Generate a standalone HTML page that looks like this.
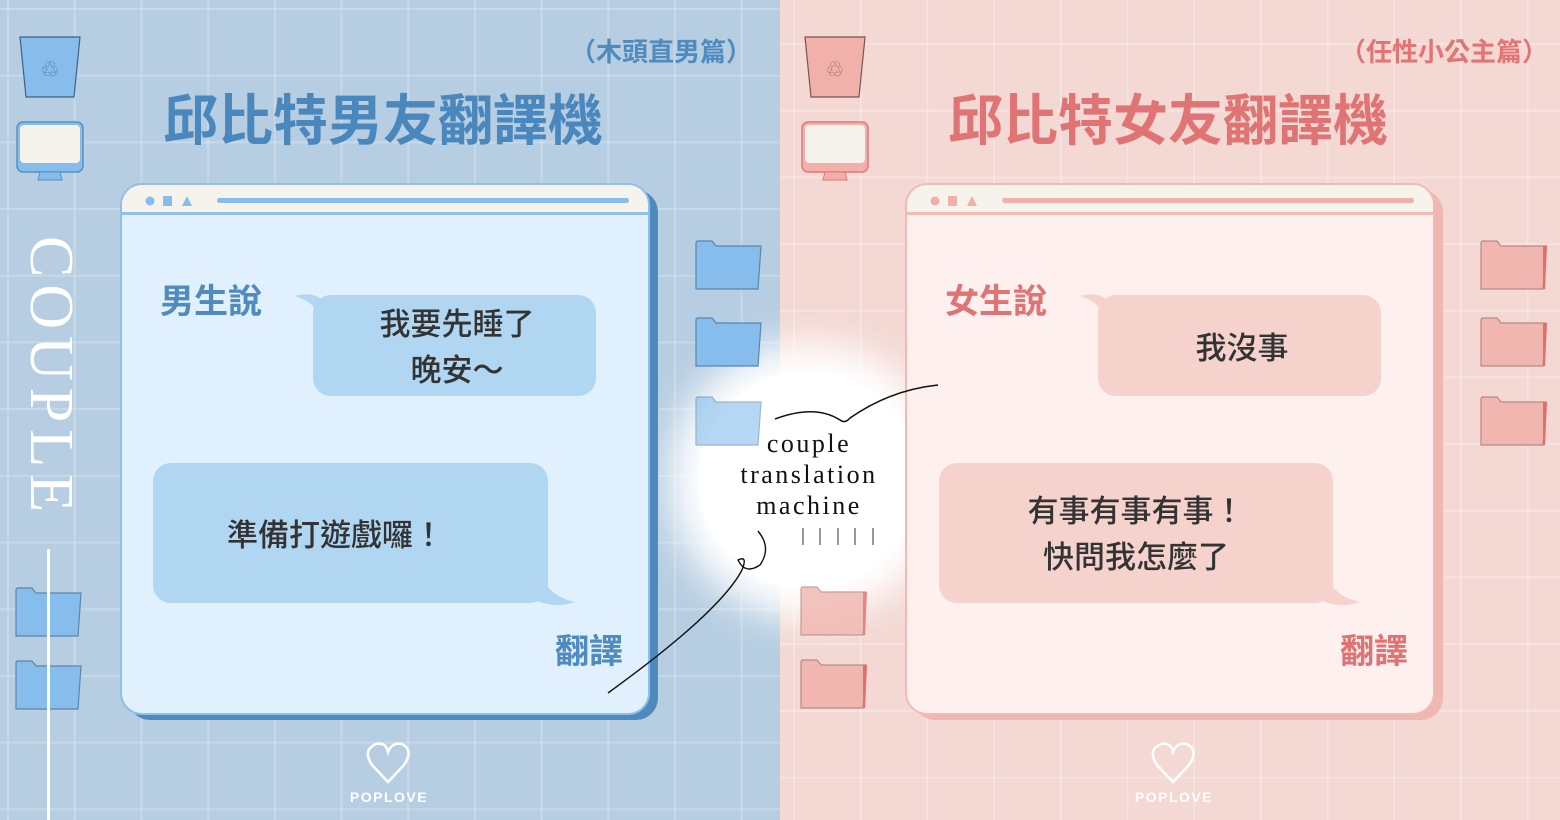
<!DOCTYPE html>
<html><head><meta charset="utf-8"><style>
*{margin:0;padding:0;box-sizing:border-box}
body{width:1560px;height:820px;overflow:hidden;position:relative;font-family:"Liberation Sans","Noto Sans CJK TC",sans-serif}
.half{position:absolute;top:0;height:820px}
#L{left:0;width:780px;background-color:#b7cee2;
background-image:linear-gradient(to right,rgba(255,255,255,.22) 2px,transparent 2px),linear-gradient(to bottom,rgba(255,255,255,.22) 2px,transparent 2px);
background-size:66.7px 66.7px;background-position:7px 8px}
#R{left:780px;width:780px;background-color:#f3d8d3;
background-image:linear-gradient(to right,rgba(255,255,255,.28) 2px,transparent 2px),linear-gradient(to bottom,rgba(255,255,255,.28) 2px,transparent 2px);
background-size:66.7px 66.7px;background-position:13px 43px}
.abs{position:absolute}
.win{position:absolute;width:530px;height:532px;border-radius:22px;overflow:hidden}
.hdr{position:absolute;left:0;top:0;width:100%;height:30px;background:#f5f3ec}
.title{position:absolute;font-weight:bold;font-size:55px;letter-spacing:0px;white-space:nowrap}
.sub{position:absolute;font-weight:bold;font-size:26px;white-space:nowrap}
.lbl{position:absolute;font-weight:bold;font-size:34px;white-space:nowrap}
.bub{position:absolute;border-radius:18px;display:flex;align-items:center;justify-content:center;text-align:center;font-size:30px;color:#333;line-height:46px;font-weight:500}
</style></head><body>
<div id="L" class="half"></div>
<div id="R" class="half"></div>

<!-- glow -->
<div class="abs" style="left:698px;top:370px;width:220px;height:220px;border-radius:50%;background:#fff;box-shadow:0 0 40px 28px #fff;"></div>

<svg class="abs" style="left:0;top:0" width="1560" height="820">
<defs><g id="fb"><path d="M0 2 Q0 0 2 0 H16 L20 5 H65 L62 48 H0 Z" fill="#86bdec" stroke="#5a86ad" stroke-width="1.2"/></g>
<g id="fp"><path d="M0 2 Q0 0 2 0 H16 L20 5 H65 L62 48 H0 Z" fill="#f1b6b0" stroke="#b88a86" stroke-width="1.2"/><path d="M62 5 H66 L64 48 H62Z" fill="#e46c6c"/></g></defs>
<path d="M20 37 H80 L74 97 H26 Z" fill="#86bdec" stroke="#44607a" stroke-width="1.2"/>
<text x="50" y="75" font-size="16" text-anchor="middle" fill="#44607a">♲</text>
<rect x="17" y="122" width="66" height="50" rx="6" fill="#86bdec" stroke="#5a90c0" stroke-width="1.5"/>
<rect x="20" y="125" width="60" height="38" rx="4" fill="#f5f3ec"/>
<path d="M40 172 H60 L62 180 H38Z" fill="#86bdec" stroke="#5a90c0"/>
<path d="M805 37 H865 L859 97 H811 Z" fill="#f1b0aa" stroke="#7a5252" stroke-width="1.2"/>
<text x="835" y="75" font-size="16" text-anchor="middle" fill="#7a5252">♲</text>
<rect x="802" y="122" width="66" height="50" rx="6" fill="#f1b0aa" stroke="#e27777" stroke-width="1.5"/>
<rect x="805" y="125" width="60" height="38" rx="4" fill="#f5f3ec"/>
<path d="M825 172 H845 L847 180 H823Z" fill="#f1b0aa" stroke="#e27777"/>
<use href="#fb" x="16" y="588"/><use href="#fb" x="16" y="661"/>
<use href="#fb" x="696" y="241"/><use href="#fb" x="696" y="318"/>
<use href="#fb" x="696" y="397" opacity="0.6"/>
<use href="#fp" x="801" y="587" opacity="0.8"/><use href="#fp" x="801" y="660"/>
<use href="#fp" x="1481" y="241"/><use href="#fp" x="1481" y="318"/><use href="#fp" x="1481" y="397"/>
<rect x="47" y="549" width="3" height="271" fill="#fff"/>
</svg>

<!-- COUPLE -->
<div class="abs" style="left:82px;top:236px;transform-origin:0 0;transform:rotate(90deg);font-family:'Liberation Serif',serif;font-size:62px;color:#fff;letter-spacing:7px;white-space:nowrap;line-height:1">COUPLE</div>

<div class="sub" style="left:570px;top:32px;color:#4f8bbf">（木頭直男篇）</div>
<div class="title" style="left:163px;top:76px;color:#4a87bd">邱比特男友翻譯機</div>
<div class="sub" style="left:1340px;top:32px;color:#e27474">（任性小公主篇）</div>
<div class="title" style="left:948px;top:76px;color:#e07474">邱比特女友翻譯機</div>

<!-- left window -->
<div class="abs" style="left:128px;top:190px;width:530px;height:530px;border-radius:22px;background:#4e8abe"></div>
<div class="win" style="left:120px;top:183px;background:#e0f0fd;border:2px solid #8fc0ea">
 <div class="hdr" style="border-bottom:3px solid #8fc0ea"></div>
 <svg class="abs" style="left:0;top:0" width="530" height="30">
  <circle cx="28" cy="16" r="4.5" fill="#86bdec"/><rect x="41" y="11" width="9" height="10" fill="#86bdec"/><path d="M60 21 L65 11 L70 21Z" fill="#86bdec"/>
  <rect x="95" y="13" width="412" height="5" rx="2.5" fill="#86bdec"/></svg>
</div>
<div class="lbl" style="left:160px;top:274px;color:#4f8bbf">男生說</div>
<svg class="abs" style="left:290px;top:290px" width="40" height="30"><path d="M5 6 Q20 2 30 8 L30 28 Q25 12 5 6Z" fill="#b0d6f2"/></svg>
<div class="bub" style="left:313px;top:295px;width:283px;height:101px;background:#b0d6f2;padding-left:5px;padding-top:4px;font-size:31px">我要先睡了<br>晚安～</div>
<div class="bub" style="left:153px;top:463px;width:395px;height:140px;background:#b0d6f2;padding-top:6px;padding-right:30px;font-size:31px">準備打遊戲囉！</div>
<svg class="abs" style="left:530px;top:575px" width="50" height="32"><path d="M10 0 Q20 22 45 27 Q25 34 5 25Z" fill="#b0d6f2"/></svg>
<div class="lbl" style="left:555px;top:624px;color:#4f8bbf">翻譯</div>

<!-- right window -->
<div class="abs" style="left:913px;top:190px;width:530px;height:530px;border-radius:22px;background:#f0b7b1"></div>
<div class="win" style="left:905px;top:183px;background:#fdf0ee;border:2px solid #f3bab4">
 <div class="hdr" style="border-bottom:3px solid #f3bab4"></div>
 <svg class="abs" style="left:0;top:0" width="530" height="30">
  <circle cx="28" cy="16" r="4.5" fill="#f1b0aa"/><rect x="41" y="11" width="9" height="10" fill="#f1b0aa"/><path d="M60 21 L65 11 L70 21Z" fill="#f1b0aa"/>
  <rect x="95" y="13" width="412" height="5" rx="2.5" fill="#f1b0aa"/></svg>
</div>
<div class="lbl" style="left:945px;top:274px;color:#e07474">女生說</div>
<svg class="abs" style="left:1075px;top:290px" width="40" height="30"><path d="M5 6 Q20 2 30 8 L30 28 Q25 12 5 6Z" fill="#f5d2cc"/></svg>
<div class="bub" style="left:1098px;top:295px;width:283px;height:101px;background:#f5d2cc;padding-left:5px;padding-top:6px;font-size:31px">我沒事</div>
<div class="bub" style="left:939px;top:463px;width:394px;height:140px;background:#f5d2cc;padding-top:4px;font-size:31px">有事有事有事！<br>快問我怎麼了</div>
<svg class="abs" style="left:1315px;top:575px" width="50" height="32"><path d="M10 0 Q20 22 45 27 Q25 34 5 25Z" fill="#f5d2cc"/></svg>
<div class="lbl" style="left:1340px;top:624px;color:#e07474">翻譯</div>

<div class="abs" style="left:695px;top:428px;width:228px;text-align:center;font-family:'Liberation Serif',serif;font-size:26px;line-height:31px;letter-spacing:2.5px;color:#111">couple<br>translation<br>machine</div>
<svg class="abs" style="left:0;top:0" width="1560" height="820">
<path d="M775 419 Q815 404 840 420 Q845 424 850 418 Q890 390 938 385" fill="none" stroke="#111" stroke-width="1.5"/>
<path d="M608 693 Q720 612 742 570 Q748 555 738 560 Q745 575 760 565 Q772 548 758 531" fill="none" stroke="#111" stroke-width="1.4"/>
<g stroke="#333" stroke-width="1"><line x1="803" y1="528" x2="803" y2="545"/><line x1="820" y1="528" x2="820" y2="545"/><line x1="838" y1="528" x2="838" y2="545"/><line x1="855" y1="528" x2="855" y2="545"/><line x1="873" y1="528" x2="873" y2="545"/></g>
<g fill="none" stroke="#fff" stroke-width="2.5">
<path d="M388 782 L372 765 Q362 750 376 744 Q386 742 388 752 Q392 742 402 744 Q414 750 404 765 Z"/>
<path d="M1173 782 L1157 765 Q1147 750 1161 744 Q1171 742 1173 752 Q1177 742 1187 744 Q1199 750 1189 765 Z"/>
</g>
<text x="389" y="802" font-size="14" font-weight="bold" fill="#fff" text-anchor="middle" letter-spacing="1.5" font-family="Liberation Sans">POPLOVE</text>
<text x="1174" y="802" font-size="14" font-weight="bold" fill="#fff" text-anchor="middle" letter-spacing="1.5" font-family="Liberation Sans">POPLOVE</text>
</svg>
</body></html>
